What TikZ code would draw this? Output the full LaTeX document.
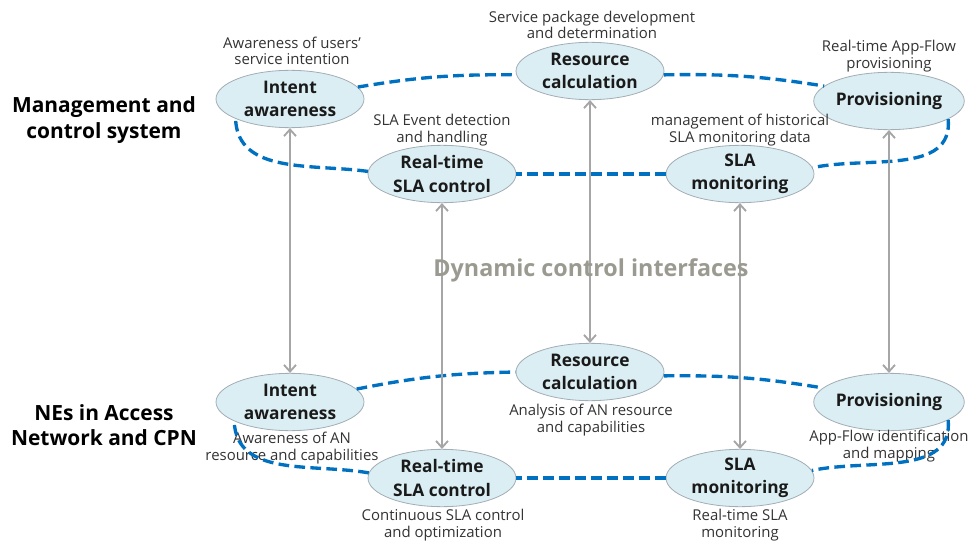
\documentclass[tikz,border=0pt]{standalone}
\usepackage{fontspec}
\setmainfont{Open Sans}
\usepackage{tikz}
\usetikzlibrary{arrows.meta,positioning,shapes.geometric}
\definecolor{dcBlue}{HTML}{0070C0}
\definecolor{dcFill}{HTML}{DAEEF3}
\definecolor{dcEdge}{HTML}{A3ADB5}
\definecolor{dcGray}{HTML}{A6A6A6}
\definecolor{dcInk}{HTML}{1A1A1A}
\definecolor{dcNoteInk}{HTML}{333333}
\definecolor{dcTitle}{HTML}{9A9A90}
\tikzset{
  dcFunc/.style={ellipse,draw=dcEdge,fill=dcFill,line width=0.6pt,
    minimum width=111pt,minimum height=43pt,inner sep=0pt,align=center,
    font=\bfseries\fontsize{13}{17.5}\selectfont,text=dcInk},
  dcNote/.style={align=center,font=\fontsize{11.2}{12.5}\selectfont,text=dcNoteInk},
  dcSide/.style={align=center,font=\bfseries\fontsize{15.7}{19}\selectfont,text=black},
  dcRing/.style={draw=dcBlue,line width=2.5pt,dash pattern=on 8pt off 4pt},
  dcArrow/.style={{Straight Barb[length=5pt,width=9pt]}-{Straight Barb[length=5pt,width=9pt]},
    line width=1.4pt,draw=dcGray}
}
\begin{document}
\begin{tikzpicture}[x=0.75pt,y=-0.75pt]
\path[use as bounding box] (0,0) rectangle (975,542);
% side labels
\node[dcSide] (mgmt) at (104,120) {Management and\\control system};
\node[dcSide] (nes) at (104,425) {NEs in Access\\Network and CPN};
% upper ring
\node[dcFunc] (tIntent) at (290,99) {Intent\\awareness};
\node[dcFunc] (tRes) at (590,71) {Resource\\calculation};
\node[dcFunc] (tProv) at (889,101) {Provisioning};
\node[dcFunc] (tRt) at (442,174) {Real-time\\SLA control};
\node[dcFunc] (tSla) at (740,174) {SLA\\monitoring};
\node[dcNote] (tIntentN) at (292,51) {Awareness of users'\\service intention};
\node[dcNote] (tResN) at (592,25) {Service package development\\and determination};
\node[dcNote] (tProvN) at (889,56) {Real-time App-Flow\\provisioning};
\node[dcNote] (tRtN) at (442,130) {SLA Event detection\\and handling};
\node[dcNote] (tSlaN) at (740,130) {management of historical\\SLA monitoring data};
\draw[dcRing] (tIntent.10) to[bend left=5] (tRes.183);
\draw[dcRing] (tRes.-3) to[bend left=5] (tProv.167);
\draw[dcRing] (tProv.-17) to[out=-85,in=12] (tSla.5);
\draw[dcRing] (tSla.180) -- (tRt.0);
\draw[dcRing] (tRt.178) to[out=172,in=-88] (tIntent.200);
% lower ring
\node[dcFunc] (bIntent) at (290,402) {Intent\\awareness};
\node[dcFunc] (bRes) at (590,372) {Resource\\calculation};
\node[dcFunc] (bProv) at (889,402) {Provisioning};
\node[dcFunc] (bRt) at (442,478) {Real-time\\SLA control};
\node[dcFunc] (bSla) at (740,478) {SLA\\monitoring};
\node[dcNote] (bIntentN) at (292,448) {Awareness of AN\\resource and capabilities};
\node[dcNote] (bResN) at (591,420) {Analysis of AN resource\\and capabilities};
\node[dcNote] (bProvN) at (889,446) {App-Flow identification\\and mapping};
\node[dcNote] (bRtN) at (443,525) {Continuous SLA control\\and optimization};
\node[dcNote] (bSlaN) at (740,525) {Real-time SLA\\monitoring};
\draw[dcRing] (bIntent.11) to[bend left=5] (bRes.180);
\draw[dcRing] (bRes.-3) to[bend left=5] (bProv.168);
\draw[dcRing] (bProv.-17) to[out=-85,in=12] (bSla.6);
\draw[dcRing] (bSla.180) -- (bRt.0);
\draw[dcRing] (bRt.176) to[out=170,in=-88] (bIntent.199);
% interfaces
\foreach \from/\to in {tIntent/bIntent,tRt/bRt,tRes/bRes,tSla/bSla,tProv/bProv}
  \draw[dcArrow] (\from) -- (\to);
\node[font=\bfseries\fontsize{17.5}{20}\selectfont,text=dcTitle] (dci) at (591,270)
  {Dynamic control interfaces};
\end{tikzpicture}
\end{document}
